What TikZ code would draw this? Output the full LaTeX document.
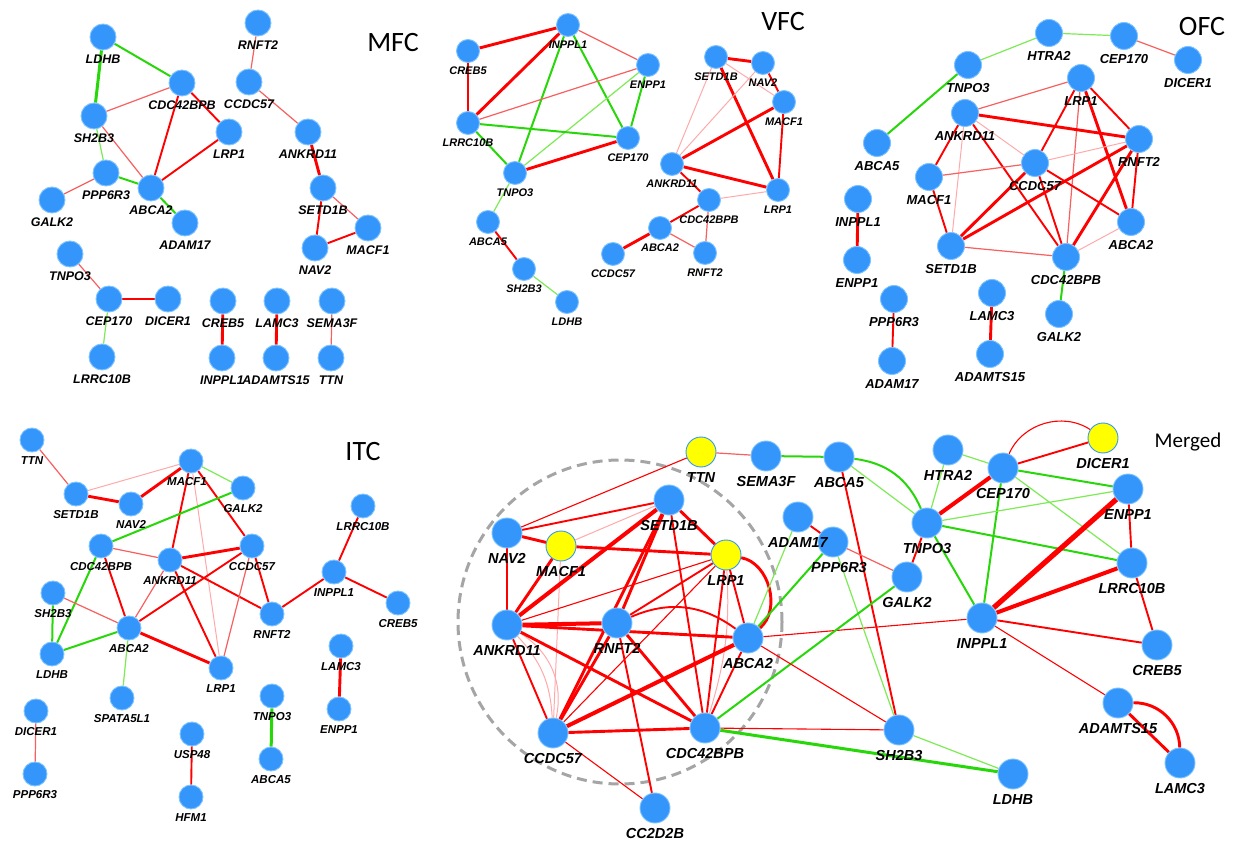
\documentclass[tikz,border=0pt]{standalone}
\usepackage{fontspec}
\newfontfamily\labfam{Liberation Sans}
\newfontfamily\titfam{Carlito}
\usetikzlibrary{calc}
\pgfdeclarelayer{bg}
\pgfsetlayers{bg,main}
\definecolor{nblue}{RGB}{52,150,250}
\definecolor{nring}{RGB}{125,195,255}
\definecolor{ered}{RGB}{255,0,0}
\definecolor{elred}{RGB}{248,95,95}
\definecolor{epred}{RGB}{255,170,170}
\definecolor{egreen}{RGB}{40,215,10}
\definecolor{elgreen}{RGB}{125,235,85}
\definecolor{ndash}{RGB}{165,165,165}
\definecolor{nyellow}{RGB}{255,255,0}
\newcommand\labsz[1]{\labfam\bfseries\itshape\fontsize{#1}{#1}\selectfont}
\tikzset{
 gene/.style={circle, fill=nblue, draw=nring, line width=0.9pt, inner sep=0pt},
 ygene/.style={gene, fill=nyellow, draw=nblue},
 mg/.style={minimum size=26pt},
 vg/.style={minimum size=23pt},
 og/.style={minimum size=27pt},
 ig/.style={minimum size=24pt},
 gg/.style={minimum size=30pt},
 R1/.style={draw=ered, line width=1.1pt},
 L1/.style={draw=elred, line width=1.2pt},
 P/.style={draw=epred, line width=1pt},
 R2/.style={draw=ered, line width=1.9pt},
 R3/.style={draw=ered, line width=2.9pt},
 R4/.style={draw=ered, line width=4pt},
 R5/.style={draw=ered, line width=5.2pt},
 G1/.style={draw=elgreen, line width=1.2pt},
 G2/.style={draw=egreen, line width=2pt},
 G3/.style={draw=egreen, line width=3pt},
 ttl/.style={font=\titfam\fontsize{28}{30}\selectfont, inner sep=0pt, text=black},
}
\begin{document}
\begin{tikzpicture}[x=1pt,y=-1pt]
\useasboundingbox (0,0) rectangle (1243,842);
\begin{pgfonlayer}{bg}
\fill[white] (0,0) rectangle (1243,842);
\end{pgfonlayer}

% ================= MFC =================
\begin{scope}[every label/.style={font=\labsz{12.5}, inner sep=0pt}, label distance=4pt]
\node[gene,mg,label=below:LDHB] (mLDHB) at (103,37) {};
\node[gene,mg,label=below:CDC42BPB] (mCDC) at (182,83) {};
\node[gene,mg,label=below:SH2B3] (mSH2B3) at (94,116) {};
\node[gene,mg,label=below:LRP1] (mLRP1) at (229,132) {};
\node[gene,mg,label=below:PPP6R3] (mPPP) at (106,173) {};
\node[gene,mg,label=below:ABCA2] (mABCA2) at (151,188) {};
\node[gene,mg,label=below:GALK2] (mGALK2) at (52,200) {};
\node[gene,mg,label=below:ADAM17] (mADAM17) at (185,223) {};
\node[gene,mg,label=below:RNFT2] (mRNFT2) at (258,23) {};
\node[gene,mg,label=below:CCDC57] (mCCDC57) at (249,82) {};
\node[gene,mg,label=below:ANKRD11] (mANK) at (308,132) {};
\node[gene,mg,label=below:SETD1B] (mSETD1B) at (323,188) {};
\node[gene,mg,label=below:MACF1] (mMACF1) at (368,228) {};
\node[gene,mg,label=below:NAV2] (mNAV2) at (315,248) {};
\node[gene,mg,label=below:TNPO3] (mTNPO3) at (70,254) {};
\node[gene,mg,label=below:CEP170] (mCEP170) at (109,299) {};
\node[gene,mg,label=below:DICER1] (mDICER1) at (168,299) {};
\node[gene,mg,label=below:LRRC10B] (mLRRC10B) at (102,357) {};
\node[gene,mg,label=below:CREB5] (mCREB5) at (223,301) {};
\node[gene,mg,label=below:INPPL1] (mINPPL1) at (222,358) {};
\node[gene,mg,label=below:LAMC3] (mLAMC3) at (277,301) {};
\node[gene,mg,label=below:ADAMTS15] (mADAMTS15) at (276,358) {};
\node[gene,mg,label=below:SEMA3F] (mSEMA3F) at (332,301) {};
\node[gene,mg,label=below:TTN] (mTTN) at (331,358) {};
\end{scope}
\node[ttl] (tMFC) at (393,43) {MFC};
\begin{pgfonlayer}{bg}
\draw[G3] (mLDHB)--(mSH2B3);
\draw[G2] (mLDHB)--(mCDC);
\draw[L1] (mCDC)--(mSH2B3);
\draw[R2] (mCDC)--(mABCA2);
\draw[R2] (mCDC)--(mLRP1);
\draw[R2] (mLRP1)--(mABCA2);
\draw[G1] (mSH2B3)--(mPPP);
\draw[L1] (mSH2B3)--(mABCA2);
\draw[G2] (mPPP)--(mABCA2);
\draw[L1] (mPPP)--(mGALK2);
\draw[G2] (mABCA2)--(mADAM17);
\draw[L1] (mRNFT2)--(mCCDC57);
\draw[L1] (mCCDC57)--(mANK);
\draw[R3] (mANK)--(mSETD1B);
\draw[R2] (mSETD1B)--(mNAV2);
\draw[L1] (mSETD1B)--(mMACF1);
\draw[R2] (mNAV2)--(mMACF1);
\draw[L1] (mTNPO3)--(mCEP170);
\draw[R2] (mCEP170)--(mDICER1);
\draw[G1] (mCEP170)--(mLRRC10B);
\draw[R3] (mCREB5)--(mINPPL1);
\draw[R3] (mLAMC3)--(mADAMTS15);
\draw[L1] (mSEMA3F)--(mTTN);
\end{pgfonlayer}

% ================= VFC =================
\begin{scope}[every label/.style={font=\labsz{11}, inner sep=0pt}, label distance=3.5pt]
\node[gene,vg,label=below:INPPL1] (vINPPL1) at (568,25) {};
\node[gene,vg,label=below:CREB5] (vCREB5) at (468,51) {};
\node[gene,vg,label=below:ENPP1] (vENPP1) at (648,65) {};
\node[gene,vg,label=below:LRRC10B] (vLRRC10B) at (468,123) {};
\node[gene,vg,label=below:CEP170] (vCEP170) at (628,138) {};
\node[gene,vg,label=below:TNPO3] (vTNPO3) at (515,173) {};
\node[gene,vg,label=below:ABCA5] (vABCA5) at (488,222) {};
\node[gene,vg,label=below:SH2B3] (vSH2B3) at (524,269) {};
\node[gene,vg,label=below:LDHB] (vLDHB) at (567,302) {};
\node[gene,vg,label=below:SETD1B] (vSETD1B) at (716,57) {};
\node[gene,vg,label=below:NAV2] (vNAV2) at (763,63) {};
\node[gene,vg,label=below:MACF1] (vMACF1) at (784,102) {};
\node[gene,vg,label=below:ANKRD11] (vANK) at (672,164) {};
\node[gene,vg,label=below:LRP1] (vLRP1) at (778,190) {};
\node[gene,vg,label=below:CDC42BPB] (vCDC) at (709,200) {};
\node[gene,vg,label=below:ABCA2] (vABCA2) at (660,228) {};
\node[gene,vg,label=below:CCDC57] (vCCDC57) at (613,254) {};
\node[gene,vg,label=below:RNFT2] (vRNFT2) at (705,253) {};
\end{scope}
\node[ttl] (tVFC) at (783,22) {VFC};
\begin{pgfonlayer}{bg}
\draw[R3] (vCREB5)--(vINPPL1);
\draw[R2] (vCREB5)--(vLRRC10B);
\draw[R3] (vINPPL1)--(vLRRC10B);
\draw[L1] (vINPPL1)--(vENPP1);
\draw[G2] (vINPPL1)--(vTNPO3);
\draw[G2] (vINPPL1)--(vCEP170);
\draw[L1] (vENPP1)--(vLRRC10B);
\draw[G1] (vENPP1)--(vTNPO3);
\draw[G2] (vENPP1)--(vCEP170);
\draw[G2] (vLRRC10B)--(vCEP170);
\draw[G2] (vLRRC10B)--(vTNPO3);
\draw[R3] (vCEP170)--(vTNPO3);
\draw[G1] (vTNPO3)--(vABCA5);
\draw[R2] (vABCA5)--(vSH2B3);
\draw[G1] (vSH2B3)--(vLDHB);
\draw[R3] (vSETD1B)--(vNAV2);
\draw[P] (vSETD1B)--(vANK);
\draw[R3] (vSETD1B)--(vLRP1);
\draw[P] (vSETD1B)--(vMACF1);
\draw[R2] (vNAV2)--(vMACF1);
\draw[P] (vNAV2)--(vANK);
\draw[R3] (vMACF1)--(vANK);
\draw[R2] (vMACF1)--(vLRP1);
\draw[R3] (vANK)--(vLRP1);
\draw[R2] (vANK)--(vCDC);
\draw[P] (vCDC)--(vLRP1);
\draw[R2] (vCDC)--(vABCA2);
\draw[L1] (vCDC)--(vRNFT2);
\draw[R3] (vABCA2)--(vCCDC57);
\draw[L1] (vABCA2)--(vRNFT2);
\end{pgfonlayer}

% ================= OFC =================
\begin{scope}[every label/.style={font=\labsz{13}, inner sep=0pt}, label distance=4.6pt]
\node[gene,og,label=below:HTRA2] (oHTRA2) at (1049,33) {};
\node[gene,og,label=below:CEP170] (oCEP170) at (1124,36) {};
\node[gene,og,label=below:DICER1] (oDICER1) at (1188,60) {};
\node[gene,og,label=below:TNPO3] (oTNPO3) at (968,65) {};
\node[gene,og,label=below:LRP1] (oLRP1) at (1081,78) {};
\node[gene,og,label=below:ANKRD11] (oANK) at (965,113) {};
\node[gene,og,label=below:RNFT2] (oRNFT2) at (1139,139) {};
\node[gene,og,label=below:ABCA5] (oABCA5) at (877,143) {};
\node[gene,og,label=below:CCDC57] (oCCDC57) at (1035,163) {};
\node[gene,og,label=below:MACF1] (oMACF1) at (929,177) {};
\node[gene,og,label=below:INPPL1] (oINPPL1) at (858,199) {};
\node[gene,og,label=below:ENPP1] (oENPP1) at (857,260) {};
\node[gene,og,label=below:SETD1B] (oSETD1B) at (951,246) {};
\node[gene,og,label=below:CDC42BPB] (oCDC) at (1066,257) {};
\node[gene,og,label=below:ABCA2] (oABCA2) at (1131,222) {};
\node[gene,og,label=below:GALK2] (oGALK2) at (1059,314) {};
\node[gene,og,label=below:PPP6R3] (oPPP) at (894,299) {};
\node[gene,og,label=below:ADAM17] (oADAM17) at (892,361) {};
\node[gene,og,label=below:LAMC3] (oLAMC3) at (992,293) {};
\node[gene,og,label=below:ADAMTS15] (oADAMTS15) at (990,354) {};
\end{scope}
\node[ttl] (tOFC) at (1202,27) {OFC};
\begin{pgfonlayer}{bg}
\draw[G2] (oABCA5)--(oTNPO3);
\draw[G1] (oTNPO3)--(oHTRA2);
\draw[G1] (oHTRA2)--(oCEP170);
\draw[L1] (oCEP170)--(oDICER1);
\draw[L1] (oLRP1)--(oANK);
\draw[R2] (oLRP1)--(oCCDC57);
\draw[R2] (oLRP1)--(oRNFT2);
\draw[L1] (oLRP1)--(oCDC);
\draw[R3] (oLRP1)--(oABCA2);
\draw[R3] (oANK)--(oRNFT2);
\draw[R2] (oANK)--(oMACF1);
\draw[P] (oANK)--(oCCDC57);
\draw[P] (oANK)--(oSETD1B);
\draw[R2] (oANK)--(oCDC);
\draw[L1] (oMACF1)--(oCCDC57);
\draw[P] (oCCDC57)--(oRNFT2);
\draw[R2] (oMACF1)--(oSETD1B);
\draw[R3] (oCCDC57)--(oSETD1B);
\draw[R2] (oCCDC57)--(oCDC);
\draw[R2] (oCCDC57)--(oABCA2);
\draw[R3] (oRNFT2)--(oSETD1B);
\draw[R3] (oRNFT2)--(oCDC);
\draw[R2] (oRNFT2)--(oABCA2);
\draw[L1] (oSETD1B)--(oCDC);
\draw[P] (oCDC)--(oABCA2);
\draw[G2] (oCDC)--(oGALK2);
\draw[R3] (oINPPL1)--(oENPP1);
\draw[R2] (oPPP)--(oADAM17);
\draw[R3] (oLAMC3)--(oADAMTS15);
\end{pgfonlayer}

% ================= ITC =================
\begin{scope}[every label/.style={font=\labsz{11.5}, inner sep=0pt}, label distance=3.9pt]
\node[gene,ig,label=below:TTN] (iTTN) at (32,440) {};
\node[gene,ig,label={[xshift=-4pt]below:MACF1}] (iMACF1) at (191,461) {};
\node[gene,ig,label=below:GALK2] (iGALK2) at (243,488) {};
\node[gene,ig,label=below:SETD1B] (iSETD1B) at (76,494) {};
\node[gene,ig,label=below:NAV2] (iNAV2) at (131,504) {};
\node[gene,ig,label=below:LRRC10B] (iLRRC10B) at (363,506) {};
\node[gene,ig,label=below:CDC42BPB] (iCDC) at (101,546) {};
\node[gene,ig,label=below:ANKRD11] (iANK) at (170,560) {};
\node[gene,ig,label=below:CCDC57] (iCCDC57) at (252,546) {};
\node[gene,ig,label=below:INPPL1] (iINPPL1) at (334,572) {};
\node[gene,ig,label=below:SH2B3] (iSH2B3) at (53,593) {};
\node[gene,ig,label=below:CREB5] (iCREB5) at (398,603) {};
\node[gene,ig,label=below:RNFT2] (iRNFT2) at (272,614) {};
\node[gene,ig,label=below:ABCA2] (iABCA2) at (129,628) {};
\node[gene,ig,label=below:LDHB] (iLDHB) at (52,654) {};
\node[gene,ig,label=below:LRP1] (iLRP1) at (221,668) {};
\node[gene,ig,label=below:SPATA5L1] (iSPATA) at (122,698) {};
\node[gene,ig,label=below:LAMC3] (iLAMC3) at (341,646) {};
\node[gene,ig,label=below:ENPP1] (iENPP1) at (339,709) {};
\node[gene,ig,label=below:TNPO3] (iTNPO3) at (272,696) {};
\node[gene,ig,label=below:ABCA5] (iABCA5) at (271,759) {};
\node[gene,ig,label=below:DICER1] (iDICER1) at (36,711) {};
\node[gene,ig,label=below:PPP6R3] (iPPP) at (35,774) {};
\node[gene,ig,label=below:USP48] (iUSP48) at (192,734) {};
\node[gene,ig,label=below:HFM1] (iHFM1) at (191,797) {};
\end{scope}
\node[ttl] (tITC) at (363,452) {ITC};
\begin{pgfonlayer}{bg}
\draw[L1] (iTTN)--(iSETD1B);
\draw[R3] (iSETD1B)--(iNAV2);
\draw[P] (iSETD1B)--(iMACF1);
\draw[R3] (iNAV2)--(iMACF1);
\draw[G1] (iMACF1)--(iGALK2);
\draw[R2] (iMACF1)--(iANK);
\draw[P] (iMACF1)--(iLRP1);
\draw[R2] (iMACF1)--(iCCDC57);
\draw[G2] (iGALK2)--(iCDC);
\draw[L1] (iCDC)--(iANK);
\draw[R2] (iCDC)--(iABCA2);
\draw[G2] (iCDC)--(iLDHB);
\draw[R3] (iANK)--(iCCDC57);
\draw[L1] (iANK)--(iABCA2);
\draw[R2] (iANK)--(iRNFT2);
\draw[R2] (iANK)--(iLRP1);
\draw[R2] (iCCDC57)--(iABCA2);
\draw[R2] (iCCDC57)--(iRNFT2);
\draw[L1] (iCCDC57)--(iLRP1);
\draw[R2] (iRNFT2)--(iINPPL1);
\draw[R2] (iINPPL1)--(iLRRC10B);
\draw[R2] (iINPPL1)--(iCREB5);
\draw[G2] (iSH2B3)--(iLDHB);
\draw[L1] (iSH2B3)--(iABCA2);
\draw[G2] (iABCA2)--(iLDHB);
\draw[R3] (iABCA2)--(iLRP1);
\draw[G1] (iABCA2)--(iSPATA);
\draw[L1] (iDICER1)--(iPPP);
\draw[R2] (iUSP48)--(iHFM1);
\draw[G3] (iTNPO3)--(iABCA5);
\draw[R3] (iLAMC3)--(iENPP1);
\end{pgfonlayer}

% ================= Merged =================
\begin{scope}[every label/.style={font=\labsz{14.5}, inner sep=0pt}, label distance=4.8pt]
\node[ygene,gg,label=below:TTN] (gTTN) at (701,452) {};
\node[gene,gg,label=below:SEMA3F] (gSEMA3F) at (766,456) {};
\node[gene,gg,label=below:ABCA5] (gABCA5) at (839,457) {};
\node[gene,gg,label=below:SETD1B] (gSETD1B) at (669,500) {};
\node[gene,gg,label={[xshift=6pt]below:PPP6R3}] (gPPP) at (833,542) {};
\node[gene,gg,label=below:ADAM17] (gADAM17) at (798,517) {};
\node[gene,gg,label=below:NAV2] (gNAV2) at (507,533) {};
\node[ygene,gg,label=below:MACF1] (gMACF1) at (561,546) {};
\node[ygene,gg,label=below:LRP1] (gLRP1) at (726,555) {};
\node[gene,gg,label=below:ANKRD11] (gANK) at (507,625) {};
\node[gene,gg,label=below:RNFT2] (gRNFT2) at (617,623) {};
\node[gene,gg,label=below:ABCA2] (gABCA2) at (748,638) {};
\node[gene,gg,label=below:CCDC57] (gCCDC57) at (553,733) {};
\node[gene,gg,label=below:CDC42BPB] (gCDC) at (705,728) {};
\node[gene,gg,label=below:CC2D2B] (gCC2D2B) at (655,808) {};
\node[gene,gg,label=below:HTRA2] (gHTRA2) at (948,450) {};
\node[gene,gg,label=below:CEP170] (gCEP170) at (1003,468) {};
\node[ygene,gg,label=below:DICER1] (gDICER1) at (1103,438) {};
\node[gene,gg,label=below:ENPP1] (gENPP1) at (1128,489) {};
\node[gene,gg,label=below:TNPO3] (gTNPO3) at (927,523) {};
\node[gene,gg,label=below:GALK2] (gGALK2) at (907,577) {};
\node[gene,gg,label=below:LRRC10B] (gLRRC10B) at (1132,563) {};
\node[gene,gg,label=below:INPPL1] (gINPPL1) at (982,618) {};
\node[gene,gg,label=below:CREB5] (gCREB5) at (1157,645) {};
\node[gene,gg,label=below:ADAMTS15] (gADAMTS15) at (1118,703) {};
\node[gene,gg,label=below:LAMC3] (gLAMC3) at (1180,763) {};
\node[gene,gg,label=below:SH2B3] (gSH2B3) at (899,730) {};
\node[gene,gg,label=below:LDHB] (gLDHB) at (1013,774) {};
\end{scope}
\node[font=\titfam\fontsize{21}{23}\selectfont, inner sep=0pt, text=black] (tMerged) at (1188,442) {Merged};
\begin{pgfonlayer}{bg}
\draw[ndash, line width=3pt, dash pattern=on 10pt off 6pt] (620,622) circle[radius=162pt];
% inner cluster
\draw[R1] (gTTN)--(gNAV2);
\draw[L1] (gTTN)--(gSEMA3F);
\draw[G2] (gSEMA3F)--(gABCA5);
\draw[R2] (gNAV2)--(gSETD1B);
\draw[R3] (gNAV2)--(gMACF1);
\draw[R2] (gNAV2)--(gANK);
\draw[P] (gMACF1)--(gSETD1B);
\draw[R3] (gMACF1)--(gLRP1);
\draw[R3] (gMACF1)--(gANK);
\draw[P] (gMACF1)--(gCCDC57);
\draw[R4] (gSETD1B)--(gANK);
\draw[R3] (gSETD1B)--(gLRP1);
\draw[R3] (gSETD1B)--(gRNFT2);
\draw[R3] (gSETD1B)--(gCCDC57);
\draw[R2] (gSETD1B)--(gCDC);
\draw[R1] (gLRP1)--(gANK);
\draw[R2] (gLRP1)--(gRNFT2);
\draw[R3] (gLRP1) to[bend left=65] (gABCA2);
\draw[R2] (gLRP1)--(gABCA2);
\draw[R1] (gLRP1)--(gCCDC57);
\draw[R2] (gLRP1)--(gCDC);
\draw[P] (gLRP1) to[bend left=10] (gCDC);
\draw[R4] (gANK)--(gRNFT2);
\draw[R3] (gANK)--(gABCA2);
\draw[R2] (gANK)--(gCCDC57);
\draw[P] (gANK) to[bend left=20] (gCCDC57);
\draw[P] (gANK) to[bend left=35] (gCCDC57);
\draw[R3] (gANK)--(gCDC);
\draw[R2] (gRNFT2) to[bend left=30] (gABCA2);
\draw[R3] (gRNFT2)--(gCCDC57);
\draw[R3] (gRNFT2)--(gCDC);
\draw[R2] (gRNFT2)--(gCC2D2B);
\draw[R4] (gABCA2)--(gCCDC57);
\draw[R2] (gABCA2)--(gCDC);
\draw[R3] (gCCDC57)--(gCDC);
\draw[R1] (gCCDC57)--(gCC2D2B);
% outer
\draw[G2] (gABCA5) to[bend left=30] (gTNPO3);
\draw[G1] (gABCA5)--(gTNPO3);
\draw[R2] (gABCA5)--(gSH2B3);
\draw[G1] (gHTRA2)--(gCEP170);
\draw[G1] (gHTRA2)--(gTNPO3);
\draw[R2] (gCEP170)--(gDICER1);
\draw[R1] (gCEP170) to[bend left=50] (gDICER1);
\draw[R4] (gCEP170)--(gTNPO3);
\draw[G2] (gCEP170)--(gENPP1);
\draw[G1] (gCEP170)--(gLRRC10B);
\draw[G2] (gCEP170)--(gINPPL1);
\draw[G1] (gTNPO3)--(gENPP1);
\draw[G2] (gTNPO3)--(gLRRC10B);
\draw[G2] (gTNPO3)--(gINPPL1);
\draw[R2] (gTNPO3)--(gGALK2);
\draw[R2] (gENPP1)--(gLRRC10B);
\draw[R5] (gENPP1)--(gINPPL1);
\draw[R4] (gLRRC10B)--(gINPPL1);
\draw[R2] (gLRRC10B)--(gCREB5);
\draw[R2] (gINPPL1)--(gCREB5);
\draw[R1] (gINPPL1)--(gADAMTS15);
\draw[R1] (gINPPL1)--(gABCA2);
\draw[R3] (gADAMTS15)--(gLAMC3);
\draw[R3] (gADAMTS15) to[bend left=45] (gLAMC3);
\draw[L1] (gPPP)--(gGALK2);
\draw[G2] (gPPP)--(gABCA2);
\draw[G1] (gPPP)--(gSH2B3);
\draw[R2] (gADAM17)--(gPPP);
\draw[G1] (gADAM17)--(gABCA2);
\draw[G2] (gGALK2)--(gCDC);
\draw[G1] (gSH2B3)--(gLDHB);
\draw[G3] (gCDC)--(gLDHB);
\draw[R1] (gCDC)--(gSH2B3);
\draw[R1] (gABCA2)--(gSH2B3);
\end{pgfonlayer}
\end{tikzpicture}
\end{document}
